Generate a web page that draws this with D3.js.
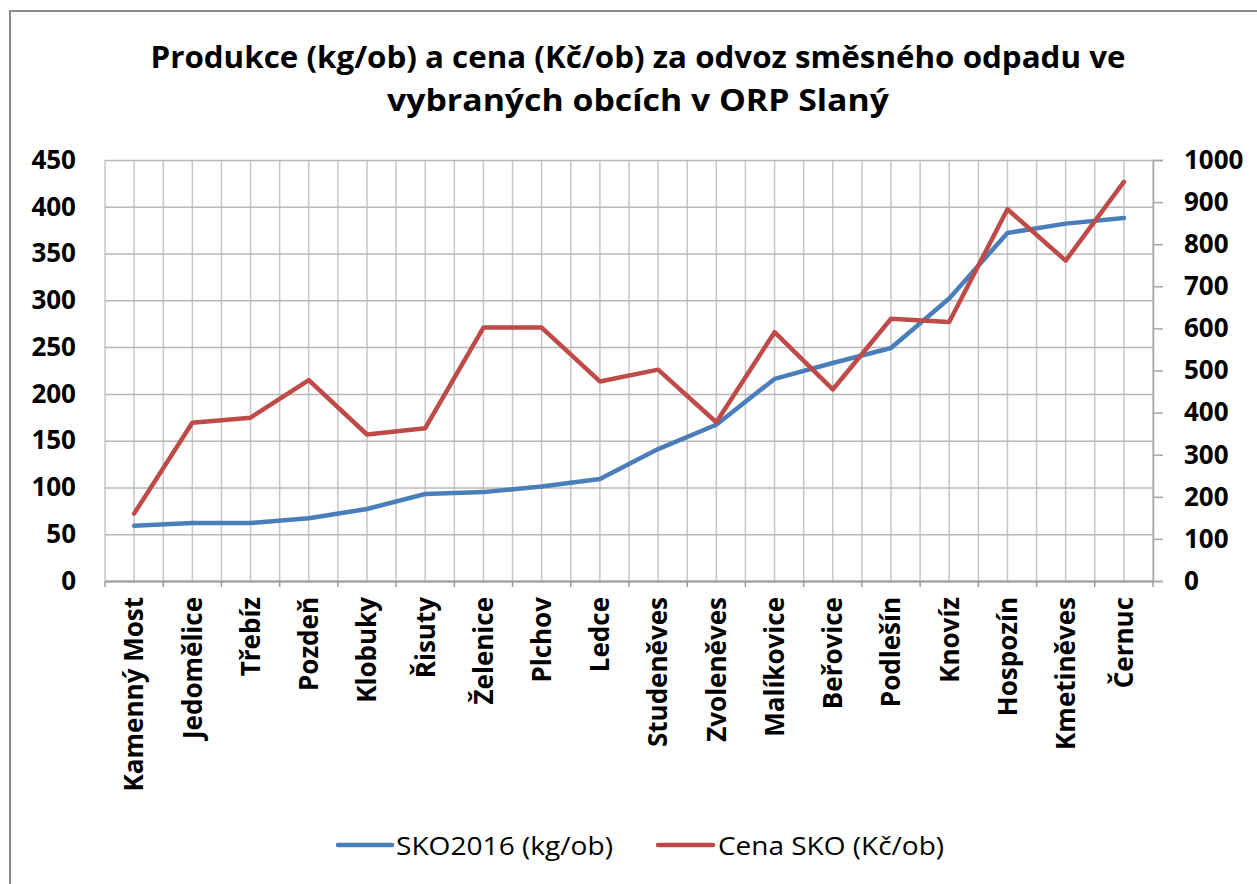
<!DOCTYPE html>
<html>
<head>
<meta charset="utf-8">
<script src="https://cdn.jsdelivr.net/npm/d3@7"></script>
<style>
  body { margin: 0; background: #fff; }
  svg { display: block; font-family: "Open Sans", "Noto Sans", sans-serif; }
</style>
</head>
<body>
<svg id="chart" width="1257" height="884"></svg>
<script>
// data
const categories = ["Kamenný Most", "Jedomělice", "Třebíz", "Pozdeň", "Klobuky", "Řisuty",
    "Želenice", "Plchov", "Ledce", "Studeněves", "Zvoleněves", "Malíkovice", "Beřovice",
    "Podlešín", "Knovíz", "Hospozín", "Kmetiněves", "Černuc"];
const skoKg = [59, 62, 62, 67, 77, 93, 95, 101, 109, 141, 167, 216, 233, 249, 302, 372, 382, 388];
const cenaKc = [160, 376, 388, 477, 348, 363, 602, 602, 474, 502, 377, 591, 455, 623, 615, 883, 761, 948];
const leftTicks = [0, 50, 100, 150, 200, 250, 300, 350, 400, 450];
const rightTicks = [0, 100, 200, 300, 400, 500, 600, 700, 800, 900, 1000];
const titleLines = ["Produkce (kg/ob) a cena (Kč/ob) za odvoz směsného odpadu ve",
    "vybraných obcích v ORP Slaný"];
const seriesNames = ["SKO2016 (kg/ob)", "Cena SKO (Kč/ob)"];

const blue = "#4a7ebb", red = "#be4b48";
const plot = { left: 105, right: 1153, top: 160, bottom: 581 };

const svg = d3.select("#chart");

// outer frame
svg.append("rect")
    .attr("x", 10).attr("y", 11)
    .attr("width", 1262).attr("height", 890)
    .attr("fill", "#fff")
    .attr("stroke", "#8c8c8c")
    .attr("stroke-width", 2);

// title
svg.append("g").selectAll("text")
    .data(titleLines)
    .join("text")
    .attr("x", 638)
    .attr("y", (d, i) => 68 + i * 43)
    .attr("text-anchor", "middle")
    .attr("font-size", 30)
    .attr("font-weight", 700)
    .attr("fill", "#000")
    .attr("textLength", (d, i) => i === 0 ? 975 : 502)
    .attr("lengthAdjust", "spacingAndGlyphs")
    .text(d => d);

const x = d3.scaleBand()
    .domain(categories)
    .range([plot.left, plot.right]);
const half = x.bandwidth() / 2;
const cx = c => x(c) + half;

const yL = d3.scaleLinear().domain([0, 450]).range([plot.bottom, plot.top]);
const yR = d3.scaleLinear().domain([0, 1000]).range([plot.bottom, plot.top]);

// vertical gridlines, at band edges and band centres
const vLines = categories.flatMap(c => [x(c), cx(c)]).concat([plot.right]);
svg.append("g").attr("class", "vgrid")
    .selectAll("line")
    .data(vLines)
    .join("line")
    .attr("x1", d => d).attr("x2", d => d)
    .attr("y1", plot.top).attr("y2", plot.bottom)
    .attr("stroke", "#c6c6c6")
    .attr("stroke-width", 1.5);

// horizontal gridlines
const hGrid = svg.append("g")
    .attr("transform", `translate(${plot.left},0)`)
    .call(d3.axisLeft(yL).tickValues(leftTicks).tickSize(-(plot.right - plot.left)).tickFormat(""));
hGrid.select(".domain").remove();
hGrid.selectAll("line").attr("stroke", "#b8b8b8").attr("stroke-width", 1.5);

function styleTickText(sel) {
    sel.attr("font-size", 26)
        .attr("font-weight", 700)
        .attr("fill", "#000")
        .attr("font-family", "'Open Sans', sans-serif");
}

// left axis labels
const leftAxis = svg.append("g")
    .attr("transform", `translate(${plot.left},0)`)
    .call(d3.axisLeft(yL).tickValues(leftTicks).tickSize(0).tickPadding(29).tickFormat(d3.format("d")));
leftAxis.select(".domain").remove();
leftAxis.selectAll("text").call(styleTickText);

// right axis
const rightAxis = svg.append("g")
    .attr("transform", `translate(${plot.right},0)`)
    .call(d3.axisRight(yR).tickValues(rightTicks).tickSize(10).tickPadding(21).tickFormat(d3.format("d")));
rightAxis.select(".domain").attr("stroke", "#a6a6a6").attr("stroke-width", 1.5);
rightAxis.selectAll("line").attr("stroke", "#a6a6a6").attr("stroke-width", 1.5);
rightAxis.selectAll("text").call(styleTickText);

// bottom axis
const bottomAxis = svg.append("g")
    .attr("transform", `translate(0,${plot.bottom})`)
    .call(d3.axisBottom(x).tickSize(0).tickPadding(0));
bottomAxis.select(".domain").attr("stroke", "#9a9a9a").attr("stroke-width", 2);
bottomAxis.selectAll("text")
    .call(styleTickText)
    .attr("transform", "translate(0,16) rotate(-90)")
    .attr("x", 0).attr("y", 0)
    .attr("dy", "0.36em")
    .attr("text-anchor", "end");

// small ticks between categories
svg.append("g").selectAll("line")
    .data(categories.map(c => x(c)).concat([plot.right]))
    .join("line")
    .attr("x1", d => d).attr("x2", d => d)
    .attr("y1", plot.bottom).attr("y2", plot.bottom + 6)
    .attr("stroke", "#9a9a9a")
    .attr("stroke-width", 1.5);

// series lines
const lineL = d3.line().x((d, i) => cx(categories[i])).y(d => yL(d));
const lineR = d3.line().x((d, i) => cx(categories[i])).y(d => yR(d));

svg.append("path")
    .datum(skoKg)
    .attr("d", lineL)
    .attr("fill", "none")
    .attr("stroke", blue)
    .attr("stroke-width", 4.5)
    .attr("stroke-linejoin", "round")
    .attr("stroke-linecap", "round");

svg.append("path")
    .datum(cenaKc)
    .attr("d", lineR)
    .attr("fill", "none")
    .attr("stroke", red)
    .attr("stroke-width", 4.5)
    .attr("stroke-linejoin", "round")
    .attr("stroke-linecap", "round");

// legend
const legendItems = [
    { name: seriesNames[0], color: blue, x0: 338, x1: 392, tx: 396, tw: 217 },
    { name: seriesNames[1], color: red, x0: 658, x1: 713, tx: 718, tw: 226 }
];
const legend = svg.append("g").selectAll("g")
    .data(legendItems)
    .join("g");
legend.append("line")
    .attr("x1", d => d.x0).attr("x2", d => d.x1)
    .attr("y1", 845).attr("y2", 845)
    .attr("stroke", d => d.color)
    .attr("stroke-width", 4.5)
    .attr("stroke-linecap", "round");
legend.append("text")
    .attr("x", d => d.tx)
    .attr("y", 855)
    .attr("font-size", 25)
    .attr("fill", "#000")
    .attr("textLength", d => d.tw)
    .attr("lengthAdjust", "spacingAndGlyphs")
    .text(d => d.name);
</script>
</body>
</html>
